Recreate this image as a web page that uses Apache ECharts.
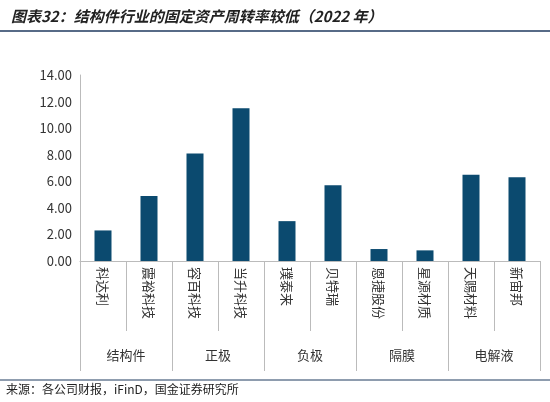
<!DOCTYPE html>
<html><head><meta charset="utf-8">
<script src="https://cdn.jsdelivr.net/npm/echarts@6/dist/echarts.min.js"></script>
<style>body{margin:0}#c{width:550px;height:402px}</style></head>
<body><div id="c"></div>
<script>
const companies=['科达利','震裕科技','容百科技','当升科技','璞泰来','贝特瑞','恩捷股份','星源材质','天赐材料','新宙邦'];
const values=[2.3,4.9,8.1,11.5,3.0,5.7,0.9,0.8,6.5,6.3];
const groups=['结构件','正极','负极','隔膜','电解液'];
const yTicks=[0,2,4,6,8,10,12,14];
const ch=echarts.init(document.getElementById('c'));
const font='"Noto Sans CJK SC", sans-serif';
ch.setOption({
  animation:false,
  textStyle:{fontFamily:font},
  title:{text:'图表32：结构件行业的固定资产周转率较低（2022 年）',left:6,top:4,
    textStyle:{fontSize:15,fontWeight:'bold',fontStyle:'italic',color:'#222',fontFamily:font}},
  graphic:[
    {type:'line',shape:{x1:0,y1:31,x2:550,y2:31},style:{stroke:'#1f3a5f',lineWidth:1.5}},
    {type:'line',shape:{x1:0,y1:380,x2:550,y2:380},style:{stroke:'#1f3a5f',lineWidth:1}},
    {type:'text',left:6,top:383,style:{text:'来源：各公司财报，iFinD，国金证券研究所',fontSize:12,fill:'#222',fontFamily:font}}
  ],
  grid:{left:80,right:10,top:75,bottom:141},
  xAxis:[
    {type:'category',data:companies,boundaryGap:true,
      axisLine:{show:true,lineStyle:{color:'#bbb'}},
      axisTick:{show:true,interval:0,alignWithLabel:false,length:70,lineStyle:{color:'#bbb'}},
      axisLabel:{interval:0,rotate:-90,fontSize:13,color:'#333',margin:6}},
    {type:'category',data:groups,position:'bottom',boundaryGap:true,
      axisLine:{show:true,lineStyle:{color:'#bbb',width:0.01}},
      axisTick:{show:true,interval:0,alignWithLabel:false,length:110,lineStyle:{color:'#bbb'}},
      axisLabel:{interval:0,fontSize:13,color:'#333',margin:88}}
  ],
  yAxis:{type:'value',min:yTicks[0],max:yTicks[yTicks.length-1],interval:2,
    axisLine:{show:true,lineStyle:{color:'#bbb'}},
    axisTick:{show:false},splitLine:{show:false},
    axisLabel:{formatter:v=>v.toFixed(2),fontSize:13,color:'#333'}},
  series:[{type:'bar',data:values,barWidth:17,itemStyle:{color:'#0b4a6f'}}]
});
</script></body></html>
